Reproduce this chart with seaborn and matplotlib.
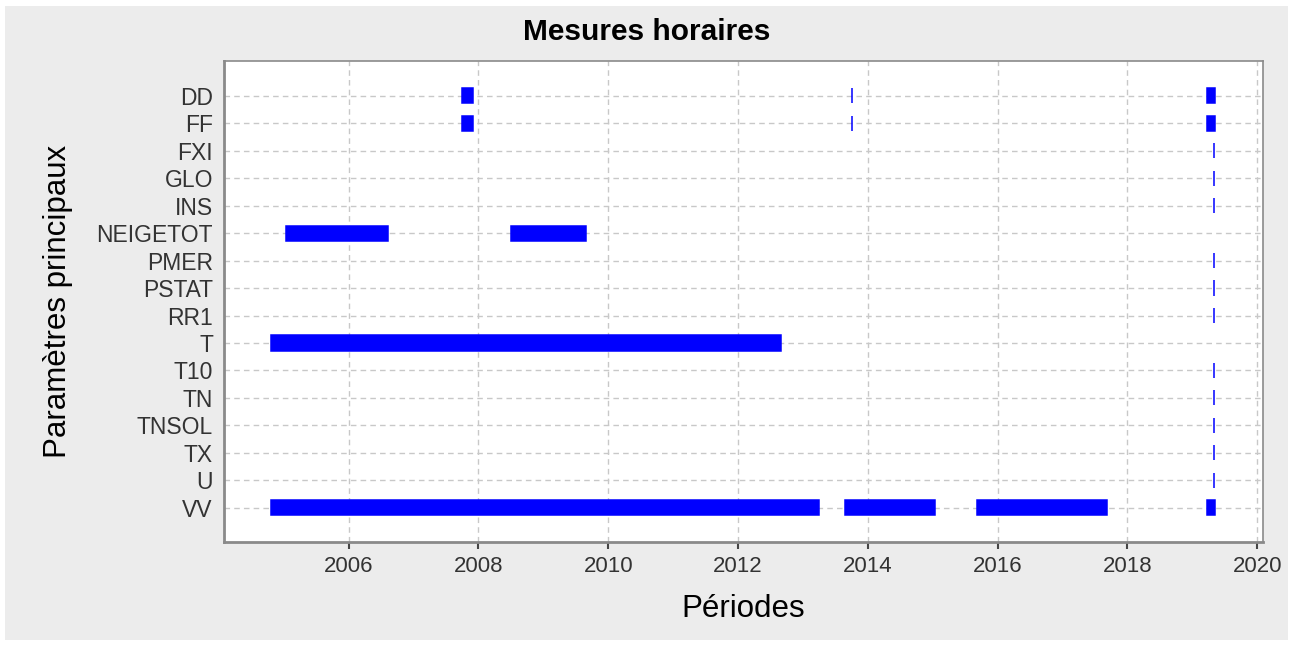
import matplotlib
matplotlib.use('Agg')
import matplotlib.pyplot as plt
import seaborn as sns
from matplotlib.patches import Rectangle

# Parameters (top to bottom) and their measurement periods (fractional years)
params = ['DD', 'FF', 'FXI', 'GLO', 'INS', 'NEIGETOT', 'PMER', 'PSTAT', 'RR1',
          'T', 'T10', 'TN', 'TNSOL', 'TX', 'U', 'VV']
period_start = {
    'DD': [2007.74, 2013.75, 2019.22],
    'FF': [2007.74, 2013.75, 2019.22],
    'FXI': [2019.34], 'GLO': [2019.34], 'INS': [2019.34],
    'NEIGETOT': [2005.03, 2008.51],
    'PMER': [2019.34], 'PSTAT': [2019.34], 'RR1': [2019.34],
    'T': [2004.80],
    'T10': [2019.34], 'TN': [2019.34], 'TNSOL': [2019.34], 'TX': [2019.34], 'U': [2019.34],
    'VV': [2004.80, 2013.65, 2015.68, 2019.22],
}
period_end = {
    'DD': [2007.92, 2013.76, 2019.35],
    'FF': [2007.92, 2013.76, 2019.35],
    'FXI': [2019.34], 'GLO': [2019.34], 'INS': [2019.34],
    'NEIGETOT': [2006.60, 2009.66],
    'PMER': [2019.34], 'PSTAT': [2019.34], 'RR1': [2019.34],
    'T': [2012.66],
    'T10': [2019.34], 'TN': [2019.34], 'TNSOL': [2019.34], 'TX': [2019.34], 'U': [2019.34],
    'VV': [2013.25, 2015.03, 2017.69, 2019.35],
}
xticks = [2006, 2008, 2010, 2012, 2014, 2016, 2018, 2020]

sns.set_theme(style='whitegrid')
plt.rcParams['font.family'] = ['Liberation Sans', 'DejaVu Sans']

fig, ax = plt.subplots(figsize=(12.94, 6.46), dpi=100)
fig.patch.set_facecolor('white')
fig.patches.append(Rectangle((5 / 1294, 6 / 646), 1283 / 1294, 634 / 646,
                             transform=fig.transFigure, facecolor='#ececec',
                             edgecolor='none', zorder=-10))
fig.subplots_adjust(left=224 / 1294, right=1263 / 1294, top=1 - 61 / 646, bottom=1 - 542 / 646)

for i, p in enumerate(params):
    for s, e in zip(period_start[p], period_end[p]):
        ax.barh(i, e - s, left=s, height=0.55, color='#0000ff',
                edgecolor='#0000ff', linewidth=1.1, zorder=3)

ax.set_yticks(range(len(params)))
ax.set_yticklabels(params)
ax.set_ylim(len(params) - 1 + 1.25, -1.27)
ax.set_xlim(2004.08, 2020.09)
ax.set_xticks(xticks)
ax.set_xticklabels([str(t) for t in xticks])

ax.set_facecolor('white')
ax.grid(True, linestyle=(0, (4, 3)), color='#c8c8c8', linewidth=1)
for side in ['left', 'bottom', 'top', 'right']:
    ax.spines[side].set_color('#8a8a8a')
ax.spines['left'].set_linewidth(2)
ax.spines['bottom'].set_linewidth(2)
ax.spines['top'].set_linewidth(1.2)
ax.spines['right'].set_linewidth(1.2)
ax.tick_params(axis='x', colors='#444444', labelsize=16, length=5, width=1.5,
               bottom=True, pad=5)
ax.tick_params(axis='y', colors='#444444', labelsize=16.5, length=0, pad=8)
for lab in ax.get_xticklabels() + ax.get_yticklabels():
    lab.set_color('#333333')

fig.suptitle('Mesures horaires', x=0.5, y=1 - 18 / 646, fontsize=21.5,
             fontweight='bold', color='black', va='top')
ax.set_xlabel('Périodes', fontsize=22.5, color='black', labelpad=12)
ax.set_ylabel('Paramètres principaux', fontsize=22.5, color='black', labelpad=17)

fig.savefig('out.png', dpi=100, facecolor=fig.get_facecolor())
